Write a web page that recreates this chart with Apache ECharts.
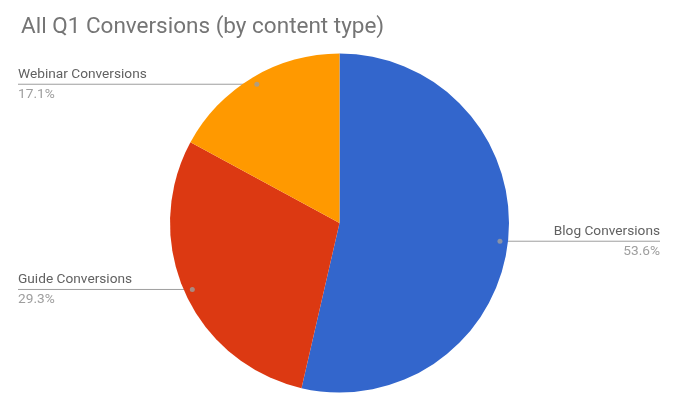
<!DOCTYPE html>
<html>
<head>
<meta charset="utf-8">
<script src="https://cdn.jsdelivr.net/npm/echarts@6/dist/echarts.min.js"></script>
<style>
  html, body { margin: 0; padding: 0; background: #fff; }
  #chart { width: 675px; height: 410px; }
</style>
</head>
<body>
<div id="chart"></div>
<script>
const titleText = 'All Q1 Conversions (by content type)';
const categories = ['Blog Conversions', 'Guide Conversions', 'Webinar Conversions'];
const values = [53.6, 29.3, 17.1];
const colors = ['#3366CC', '#DC3912', '#FF9900'];

const CENTER = [339.5, 223];
const R = 169.5;
const DOT_R = 161.5;
const EDGE = 18;

const data = categories.map((c, i) => ({ name: c, value: values[i], itemStyle: { color: colors[i] } }));
const total = values.reduce((a, b) => a + b, 0);
let acc = 0;
const dots = values.map(v => { const mid = (acc + v / 2) / total * 100; acc += v; return [DOT_R / R, mid]; });

const chart = echarts.init(document.getElementById('chart'));
chart.setOption({
  animation: false,
  title: {
    text: titleText, left: 16, top: 11,
    textStyle: { fontFamily: 'Roboto', fontSize: 22.5, fontWeight: 'normal', color: '#757575' }
  },
  polar: { center: CENTER, radius: R },
  angleAxis: { type: 'value', min: 0, max: 100, startAngle: 90, clockwise: true, show: false },
  radiusAxis: { type: 'value', min: 0, max: 1, show: false },
  series: [
    {
      type: 'pie', center: CENTER, radius: R, startAngle: 90, clockwise: true,
      data: data, label: { show: false }, labelLine: { show: false }, silent: true,
      itemStyle: { borderWidth: 0 }
    },
    {
      type: 'pie', center: CENTER, radius: DOT_R, startAngle: 90, clockwise: true, silent: true,
      data: data.map(d => ({ name: d.name, value: d.value })),
      itemStyle: { color: 'rgba(0,0,0,0)' },
      emphasis: { disabled: true },
      label: {
        show: true, position: 'outside',
        formatter: p => '{n|' + p.name + '}\n{p|' + p.value + '%}',
        rich: {
          n: { fontFamily: 'Roboto', fontSize: 13.7, color: '#616161', lineHeight: 20 },
          p: { fontFamily: 'Roboto', fontSize: 13.7, color: '#9e9e9e', lineHeight: 20 }
        }
      },
      labelLine: { show: true, length: 0, length2: 10, lineStyle: { color: '#9e9e9e', width: 1 } },
      labelLayout: function (params) {
        const p0 = params.labelLinePoints ? params.labelLinePoints[0] : [params.rect.x, params.rect.y];
        const left = p0[0] < CENTER[0];
        const w = chart.getWidth();
        const ex = left ? EDGE : w - 15;
        return {
          x: ex, y: p0[1], align: left ? 'left' : 'right', verticalAlign: 'middle',
          labelLinePoints: [[p0[0], p0[1]], [p0[0], p0[1]], [ex, p0[1]]]
        };
      }
    },
    {
      type: 'scatter', coordinateSystem: 'polar', data: dots, symbolSize: 5, z: 5, silent: true,
      itemStyle: { color: '#9e9e9e' }
    }
  ]
});
</script>
</body>
</html>
